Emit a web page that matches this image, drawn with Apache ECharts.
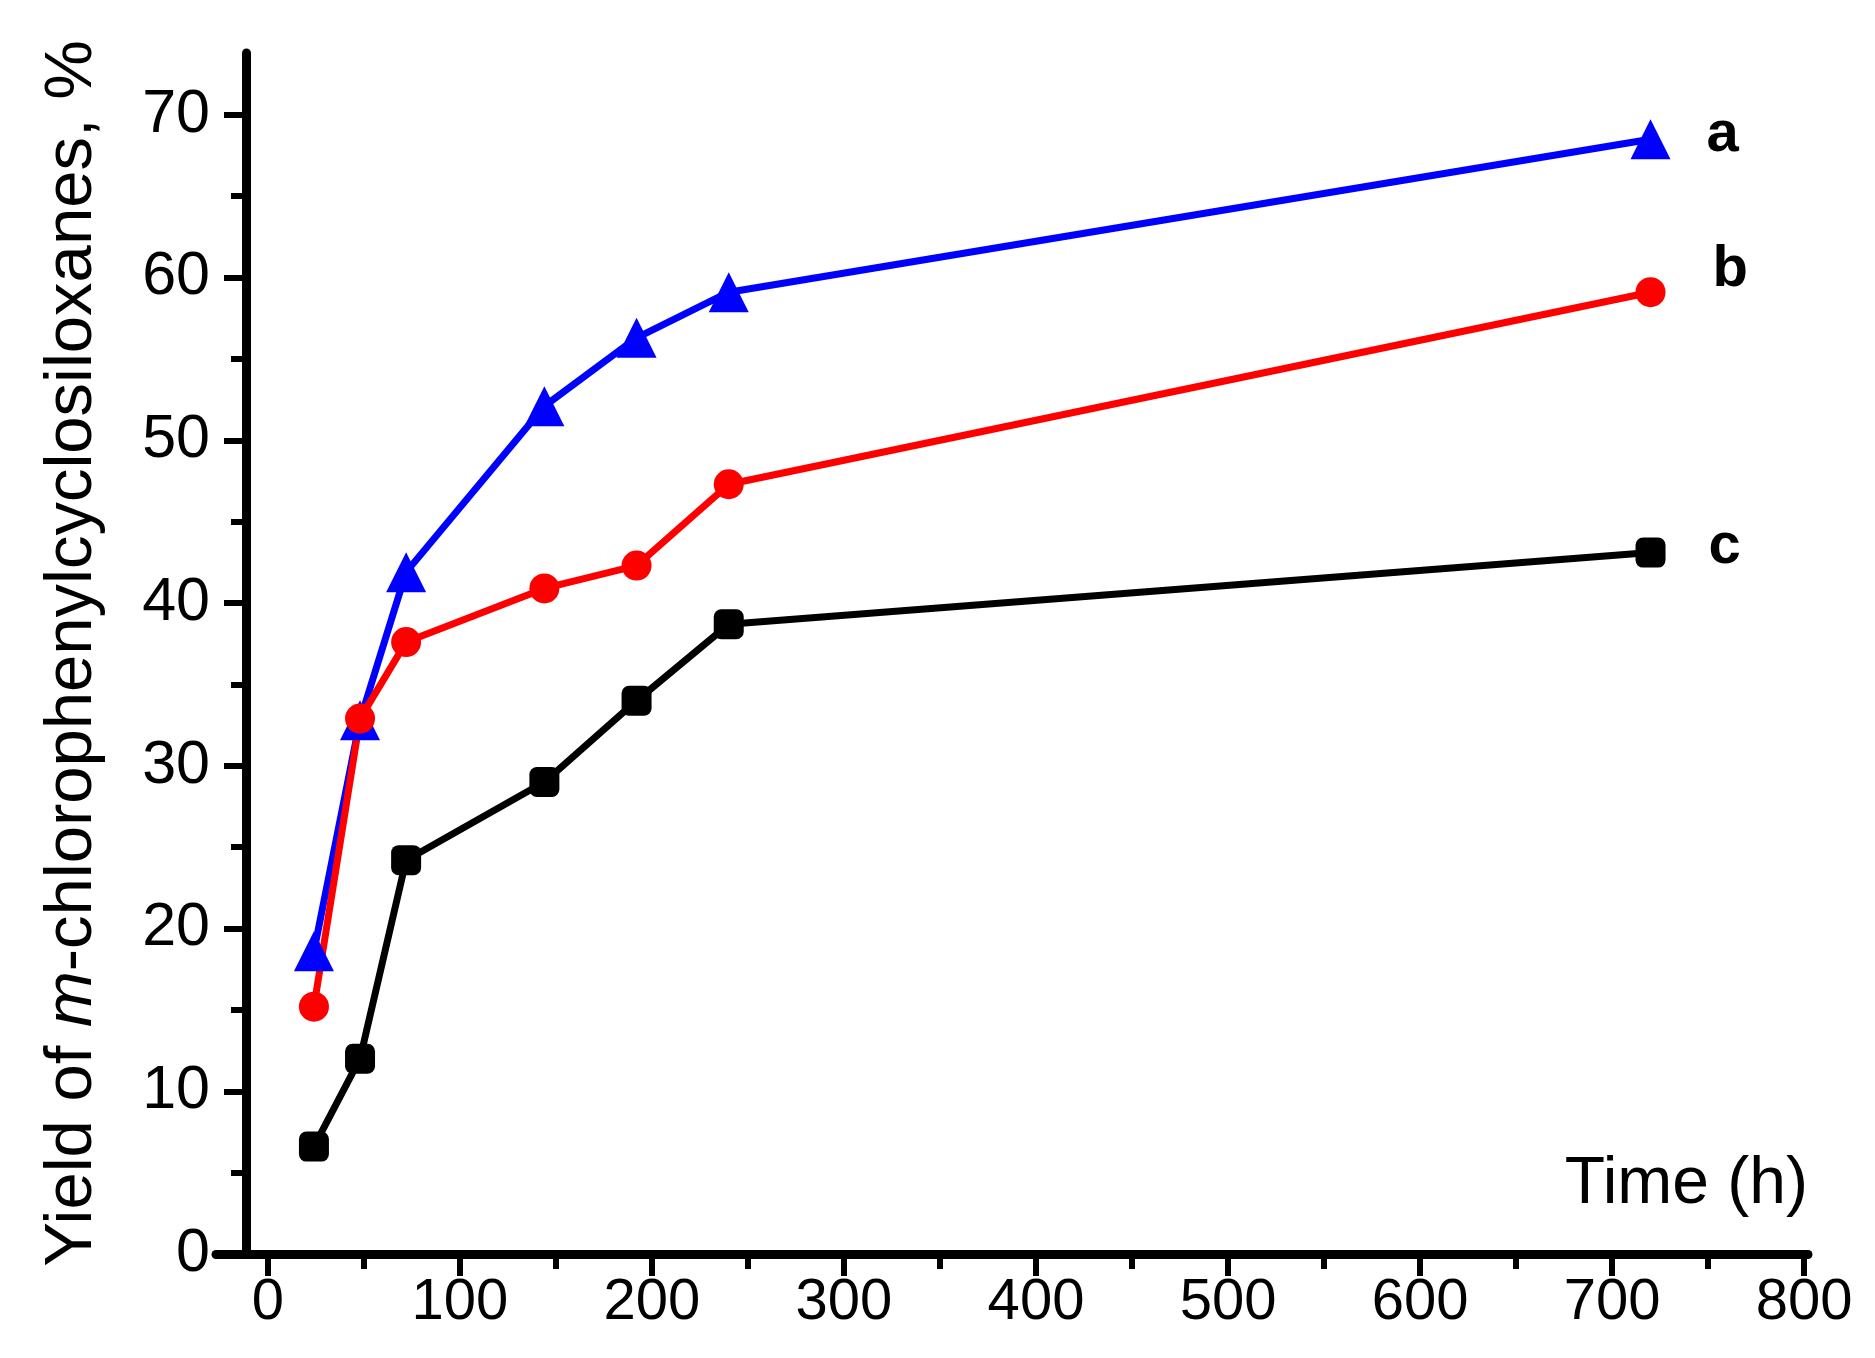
<!DOCTYPE html>
<html>
<head>
<meta charset="utf-8">
<script src="https://cdn.jsdelivr.net/npm/echarts@6/dist/echarts.min.js"></script>
<style>
html,body{margin:0;padding:0;background:#fff;}
#chart{width:1875px;height:1358px;}
</style>
</head>
<body>
<div id="chart"></div>
<script>
// ---- data ----
var times = [24, 48, 72, 144, 192, 240, 720];
var seriesA = [18.6, 32.8, 41.9, 52.1, 56.3, 59.1, 68.5];
var seriesB = [15.2, 32.9, 37.6, 40.9, 42.3, 47.3, 59.1];
var seriesC = [6.6, 12.0, 24.2, 29.0, 34.0, 38.7, 43.1];
var seriesNames = ['a', 'b', 'c'];
var xTickLabels = [0, 100, 200, 300, 400, 500, 600, 700, 800];
var xMinorTicks = [50, 150, 250, 350, 450, 550, 650, 750];
var yTickLabels = [0, 10, 20, 30, 40, 50, 60, 70];
var yMinorTicks = [5, 15, 25, 35, 45, 55, 65];

function pairs(vals) { return times.map(function (t, i) { return [t, vals[i]]; }); }

var FONT = 'Liberation Sans, Arial, sans-serif';
var chart = echarts.init(document.getElementById('chart'), null, {renderer: 'canvas'});

function endLabel(name, dx, dy) {
  return {
    show: true, formatter: name, distance: 0, offset: [dx, dy],
    fontFamily: FONT, fontWeight: 'bold', fontSize: 58, color: '#000'
  };
}

var option = {
  backgroundColor: '#fff',
  animation: false,
  grid: {left: 216, right: 67, top: 53, bottom: 104, containLabel: false},
  xAxis: [{
    type: 'value', min: -27, max: 802, position: 'bottom',
    axisLine: {show: true, lineStyle: {color: '#000', width: 9}},
    axisTick: {show: true, inside: false, length: 22, customValues: xTickLabels, lineStyle: {color: '#000', width: 6}},
    axisLabel: {show: true, customValues: xTickLabels, margin: 20, fontFamily: FONT, fontSize: 58, color: '#000'},
    splitLine: {show: false},
    name: 'Time (h)', nameLocation: 'end', nameGap: 0,
    nameTextStyle: {fontFamily: FONT, fontSize: 66, color: '#000', align: 'right', verticalAlign: 'bottom', padding: [0, 0, 36, 0]}
  }, {
    type: 'value', min: -27, max: 802, position: 'bottom',
    axisLine: {show: false},
    axisTick: {show: true, inside: false, length: 15, customValues: xMinorTicks, lineStyle: {color: '#000', width: 6}},
    axisLabel: {show: false},
    splitLine: {show: false}
  }],
  yAxis: [{
    type: 'value', min: 0, max: 73.8, position: 'left', offset: -30,
    axisLine: {show: true, onZero: false, lineStyle: {color: '#000', width: 9}},
    axisTick: {show: true, inside: false, length: 22, customValues: yTickLabels, lineStyle: {color: '#000', width: 6}},
    axisLabel: {show: true, customValues: yTickLabels, margin: 36, fontFamily: FONT, fontSize: 61, color: '#000'},
    splitLine: {show: false},
    name: '{n|Yield of }{i|m}{n|-chlorophenylcyclosiloxanes, %}',
    nameLocation: 'middle', nameGap: 140, nameRotate: 90,
    nameTextStyle: {
      rich: {
        n: {fontFamily: FONT, fontSize: 67, color: '#000'},
        i: {fontFamily: FONT, fontSize: 67, color: '#000', fontStyle: 'italic'}
      }
    }
  }, {
    type: 'value', min: 0, max: 73.8, position: 'left', offset: -30,
    axisLine: {show: false, onZero: false},
    axisTick: {show: true, inside: false, length: 15, customValues: yMinorTicks, lineStyle: {color: '#000', width: 6}},
    axisLabel: {show: false},
    splitLine: {show: false}
  }],
  series: [{
    name: seriesNames[0], type: 'line', data: pairs(seriesA),
    symbol: 'triangle', symbolSize: 40,
    lineStyle: {color: '#0000ff', width: 7}, itemStyle: {color: '#0000ff'},
    endLabel: endLabel(seriesNames[0], 56, -4)
  }, {
    name: seriesNames[1], type: 'line', data: pairs(seriesB),
    symbol: 'circle', symbolSize: 30,
    lineStyle: {color: '#ff0000', width: 7}, itemStyle: {color: '#ff0000'},
    endLabel: endLabel(seriesNames[1], 62, -22)
  }, {
    name: seriesNames[2], type: 'line', data: pairs(seriesC),
    symbol: 'roundRect', symbolSize: 30,
    lineStyle: {color: '#000000', width: 7}, itemStyle: {color: '#000000'},
    endLabel: endLabel(seriesNames[2], 58, -6)
  }]
};
chart.setOption(option);
</script>
</body>
</html>
